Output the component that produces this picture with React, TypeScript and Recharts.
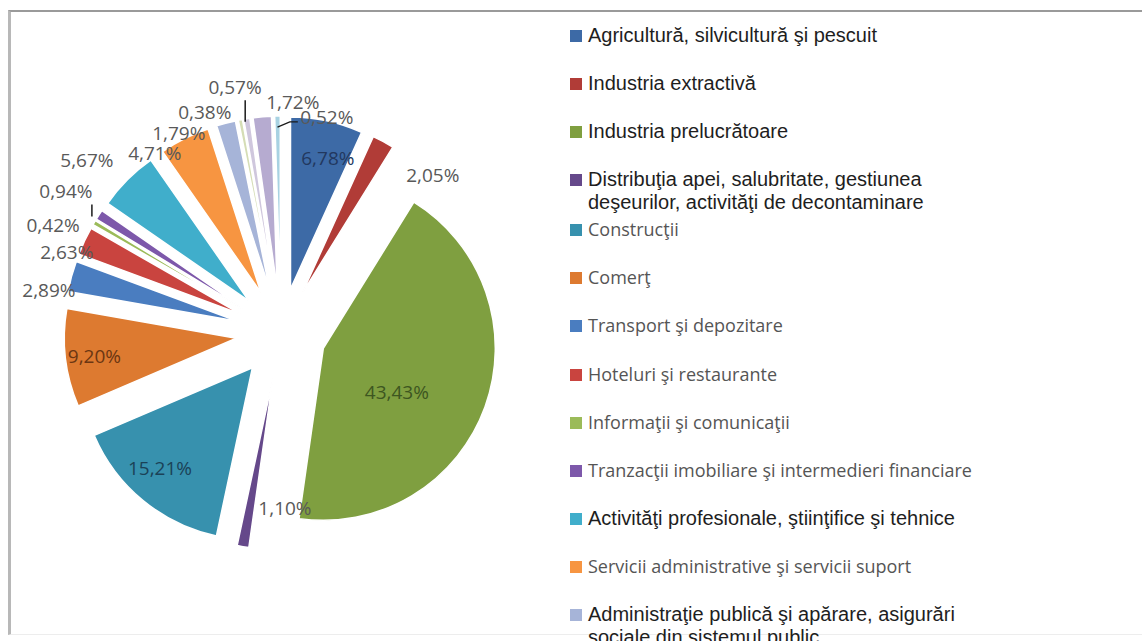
import React from 'react';
import { PieChart, Pie, Cell, Sector, Legend } from 'recharts';

const categories = [
  'Agricultură, silvicultură şi pescuit',
  'Industria extractivă',
  'Industria prelucrătoare',
  'Distribuţia apei, salubritate, gestiunea deşeurilor, activităţi de decontaminare',
  'Construcţii',
  'Comerţ',
  'Transport şi depozitare',
  'Hoteluri şi restaurante',
  'Informaţii şi comunicaţii',
  'Tranzacţii imobiliare şi intermedieri financiare',
  'Activităţi profesionale, ştiinţifice şi tehnice',
  'Servicii administrative şi servicii suport',
  'Administraţie publică şi apărare, asigurări sociale din sistemul public',
  'Învăţământ',
  'Sănătate şi asistenţă socială',
  'Activităţi de spectacole, culturale şi recreative',
  'Alte activităţi de servicii',
];

const shares = [6.78, 2.05, 43.43, 1.1, 15.21, 9.2, 2.89, 2.63, 0.42, 0.94, 5.67, 4.71, 1.79, 0.38, 0.57, 1.72, 0.52];

const valueLabels = ['6,78%', '2,05%', '43,43%', '1,10%', '15,21%', '9,20%', '2,89%', '2,63%', '0,42%', '0,94%', '5,67%', '4,71%', '1,79%', '0,38%', '0,57%', '1,72%', '0,52%'];

// styling
const colors = ['#3D6AA6', '#B13C37', '#7F9F40', '#65488A', '#3791AE', '#DD7A30', '#4A7DC0', '#C9443F', '#9BBB59', '#7D58AA', '#40AECB', '#F79541', '#A6B4D8', '#D5DDB5', '#CFC7DD', '#B6ABD0', '#A8D2E2'];
const labelColors = ['#22385F', '#595959', '#3D5620', '#595959', '#1B4257', '#6B3612', '#595959', '#595959', '#595959', '#595959', '#595959', '#595959', '#595959', '#595959', '#595959', '#595959', '#595959'];
const legendStrong = [true, true, true, true, false, false, false, false, false, false, true, false, true, false, false, false, false];
// best-fit label placement: clockwise angle shift from slice middle (deg), distance from centre (px)
const labelShift = [2.8, 15.8, 7, -11.4, 2.5, -0.4, -4.7, -4.4, -5.3, 0.5, -3.2, -8.6, -12.3, -8.2, -1.5, 7.9, 12.9];
const labelDist = [181, 219, 130, 175, 181, 188, 236, 229, 252, 258, 260, 220, 225, 234, 250, 231, 221];

const data = categories.map((name, i) => ({ name, value: shares[i] }));

const EXPLODE = 45;
const RAD = Math.PI / 180;

const renderSlice = (props: any) => {
  const { cx, cy, midAngle, innerRadius, outerRadius, startAngle, endAngle, fill } = props;
  const dx = EXPLODE * Math.cos(-midAngle * RAD);
  const dy = EXPLODE * Math.sin(-midAngle * RAD);
  return (
    <Sector
      cx={cx + dx}
      cy={cy + dy}
      innerRadius={innerRadius}
      outerRadius={outerRadius}
      startAngle={startAngle}
      endAngle={endAngle}
      fill={fill}
      stroke="#ffffff"
      strokeWidth={1.5}
    />
  );
};

const renderLabel = (props: any) => {
  const { cx, cy, midAngle, outerRadius, index } = props;
  const ang = midAngle - labelShift[index];
  const d = labelDist[index];
  const x = cx + d * Math.cos(-ang * RAD);
  const y = cy + d * Math.sin(-ang * RAD);
  const pr = outerRadius + EXPLODE - 3;
  const px = cx + pr * Math.cos(-midAngle * RAD);
  const py = cy + pr * Math.sin(-midAngle * RAD);
  let leader: React.ReactNode = null;
  if (index === 14) {
    leader = <line x1={px - 2} y1={y + 13} x2={px - 2} y2={py} stroke="#1a1a1a" strokeWidth={1.5} />;
  } else if (index === 9) {
    leader = <line x1={x + 26} y1={y + 14} x2={x + 26} y2={py} stroke="#1a1a1a" strokeWidth={1.5} />;
  } else if (index === 16) {
    leader = (
      <polyline
        points={`${px},${py + 8} ${x - 37},${y + 5} ${x - 29},${y + 5}`}
        fill="none"
        stroke="#1a1a1a"
        strokeWidth={1.3}
      />
    );
  }
  return (
    <g>
      {leader}
      <text
        x={x}
        y={y}
        textAnchor="middle"
        dominantBaseline="central"
        fontFamily="'Open Sans', sans-serif"
        fontSize={19}
        fill={labelColors[index]}
      >
        {valueLabels[index]}
      </text>
    </g>
  );
};

const renderLegend = () => (
  <div style={{ display: 'flex', flexDirection: 'column' }}>
    {categories.map((name, i) => (
      <div
        key={name}
        style={{
          display: 'flex',
          alignItems: 'flex-start',
          marginTop: i === 0 ? 0 : i === 4 ? 4 : 25.1,
        }}
      >
        <span
          style={{
            display: 'inline-block',
            width: 12,
            height: 12,
            background: colors[i],
            marginTop: 6,
            marginRight: 6,
            flex: '0 0 auto',
          }}
        />
        <span
          style={{
            maxWidth: 400,
            lineHeight: '23px',
            fontFamily: legendStrong[i] ? "'Liberation Sans', Arial, sans-serif" : "'Open Sans', sans-serif",
            fontSize: legendStrong[i] ? 20 : 18,
            color: legendStrong[i] ? '#1e1e1e' : '#555555',
          }}
        >
          {name}
        </span>
      </div>
    ))}
  </div>
);

export default function App() {
  return (
    <div
      style={{
        position: 'absolute',
        left: 0,
        top: 0,
        width: 1142,
        height: 641,
        overflow: 'hidden',
        background: '#ffffff',
      }}
    >
      <div
        style={{
          position: 'absolute',
          left: 8,
          top: 10,
          width: 1140,
          height: 622,
          borderTop: '2px solid #9a9a9a',
          borderLeft: '3px solid #b8b8b8',
          borderBottom: '1px solid #ededed',
        }}
      />
      <div style={{ position: 'absolute', left: 0, top: 0 }}>
        <PieChart width={1142} height={641}>
          <Pie
            data={data}
            dataKey="value"
            nameKey="name"
            cx={276}
            cy={328}
            outerRadius={172}
            startAngle={90}
            endAngle={-270}
            shape={renderSlice}
            label={renderLabel}
            labelLine={false}
            isAnimationActive={false}
          >
            {data.map((d, i) => (
              <Cell key={d.name} fill={colors[i]} />
            ))}
          </Pie>
          <Legend
            layout="vertical"
            verticalAlign="top"
            align="right"
            content={renderLegend}
            wrapperStyle={{ position: 'absolute', left: 570, top: 24, width: 560 }}
          />
        </PieChart>
      </div>
    </div>
  );
}
